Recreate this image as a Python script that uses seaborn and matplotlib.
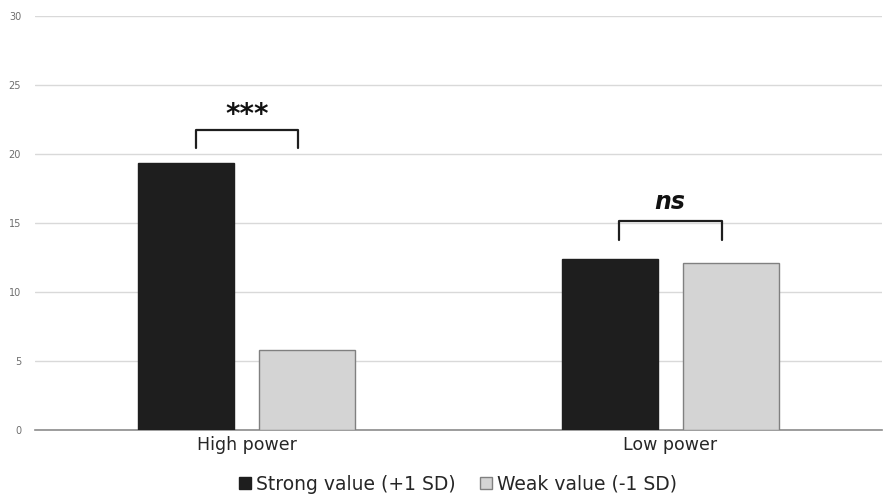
import matplotlib.pyplot as plt
import pandas as pd
import seaborn as sns
from matplotlib.lines import Line2D

# data
groups = ["High power", "Low power"]
levels = ["Strong value (+1 SD)", "Weak value (-1 SD)"]
strong = [19.35, 12.4]
weak = [5.8, 12.07]
marks = ["***", "ns"]
bracket_top = [21.75, 15.15]

df = pd.DataFrame({
    "group": groups * 2,
    "level": [levels[0]] * 2 + [levels[1]] * 2,
    "value": strong + weak,
})

sns.set_style("white")
plt.rcParams["font.family"] = ["DejaVu Sans"]

fig = plt.figure(figsize=(8.86, 4.96), dpi=100)
ax = fig.add_axes([0.0395, 0.133, 0.956, 0.835])

palette = {levels[0]: "#1e1e1e", levels[1]: "#d4d4d4"}
sns.barplot(data=df, x="group", y="value", hue="level", palette=palette,
            width=0.572, gap=0.21, ax=ax, legend=False, zorder=3)
for bar in ax.patches:
    if bar.get_facecolor()[0] > 0.5:
        bar.set_edgecolor("#808080")
    else:
        bar.set_edgecolor("#1e1e1e")
    bar.set_linewidth(1.0)

ax.set_ylim(0, 30)
ax.set_xlim(-0.5, 1.5)
ax.set_yticks(range(0, 31, 5))
ax.yaxis.grid(True, color="#d9d9d9", linewidth=1.0, zorder=0)
ax.set_axisbelow(True)
for s in ["left", "right", "top"]:
    ax.spines[s].set_visible(False)
ax.spines["bottom"].set_color("#8c8c8c")
ax.spines["bottom"].set_linewidth(1.2)
ax.tick_params(axis="y", length=0, labelsize=7, labelcolor="#6e6e6e", pad=10)
ax.tick_params(axis="x", length=0, labelsize=12.5, labelcolor="#262626", pad=4)
ax.set_xlabel("")
ax.set_ylabel("")

# significance brackets
for i, (m, top) in enumerate(zip(marks, bracket_top)):
    x0, x1 = i - 0.121, i + 0.121
    ax.plot([x0, x0, x1, x1], [top - 1.35, top, top, top - 1.35],
            color="#1e1e1e", linewidth=1.6, zorder=4)
    if m == "ns":
        ax.text(i, top + 1.4, m, ha="center", va="center", fontsize=17,
                style="italic", fontweight="bold", color="#111111")
    else:
        ax.text(i, top + 1.1, m, ha="center", va="center", fontsize=20,
                fontweight="bold", color="#111111")

handles = [
    Line2D([], [], marker="s", linestyle="", markersize=8,
           markerfacecolor="#1e1e1e", markeredgecolor="#1e1e1e"),
    Line2D([], [], marker="s", linestyle="", markersize=8,
           markerfacecolor="#d4d4d4", markeredgecolor="#808080"),
]
fig.legend(handles, levels, loc="center", bbox_to_anchor=(0.51, 0.024),
           ncol=2, frameon=False, fontsize=13.5, handletextpad=-0.4,
           columnspacing=0.6, labelcolor="#262626")

fig.savefig("out.png", dpi=100)
